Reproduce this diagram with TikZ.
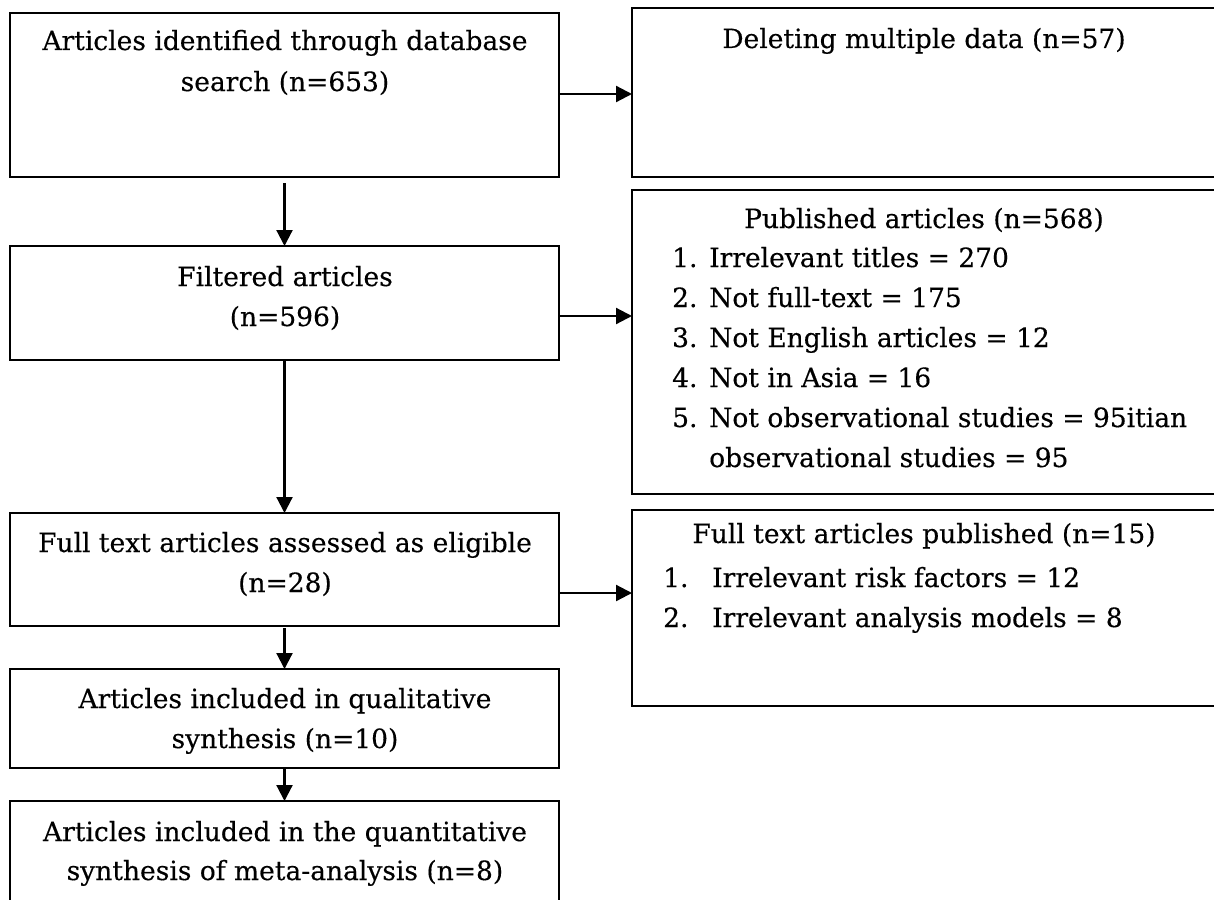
\documentclass[tikz,border=0pt]{standalone}
\usepackage{fontspec}
\setmainfont{DejaVu Serif}
\newfontfamily\gfont[FakeBold=0.35]{DejaVu Serif}
\usetikzlibrary{arrows.meta}
\begin{document}
\begin{tikzpicture}[x=1pt,y=-1pt,
  box/.style={draw=black, line width=2.2pt, inner sep=0pt, outer sep=0pt, anchor=north west},
  txt/.style={inner sep=0pt, anchor=base, font=\fontsize{26.5}{30}\gfont},
  ltxt/.style={txt, anchor=base west},
  arr/.style={line width=2.2pt, -{Triangle[length=16pt,width=16pt]}}]
\useasboundingbox (0,0) rectangle (1214,899);
\clip (0,0) rectangle (1214,899);
% left column
\node[box, minimum width=549pt, minimum height=164pt] (b1) at (10,13) {};
\node[box, minimum width=549pt, minimum height=114pt] (b2) at (10,246) {};
\node[box, minimum width=549pt, minimum height=113pt] (b3) at (10,513) {};
\node[box, minimum width=549pt, minimum height=99pt] (b4) at (10,669) {};
\node[box, minimum width=549pt, minimum height=110pt] (b5) at (10,801) {};
% right column
\node[box, minimum width=586pt, minimum height=169pt] (r1) at (632,8) {};
\node[box, minimum width=586pt, minimum height=304pt] (r2) at (632,190) {};
\node[box, minimum width=586pt, minimum height=196pt] (r3) at (632,510) {};
% left texts
\node[txt] (t1a) at (285,50) {Articles identified through database};
\node[txt] (t1b) at (285,91) {search (n=653)};
\node[txt] (t2a) at (285,286) {Filtered articles};
\node[txt] (t2b) at (285,326) {(n=596)};
\node[txt] (t3a) at (285,552) {Full text articles assessed as eligible};
\node[txt] (t3b) at (285,592) {(n=28)};
\node[txt] (t4a) at (285,708) {Articles included in qualitative};
\node[txt] (t4b) at (285,748) {synthesis (n=10)};
\node[txt] (t5a) at (285,841) {Articles included in the quantitative};
\node[txt] (t5b) at (285,880) {synthesis of meta-analysis (n=8)};
% right texts
\node[txt] (u1) at (924,48) {Deleting multiple data (n=57)};
\node[txt] (u2) at (924,228) {Published articles (n=568)};
\node[ltxt] (n21) at (672,267) {1.};
\node[ltxt] (i21) at (709,267) {Irrelevant titles = 270};
\node[ltxt] (n22) at (672,307) {2.};
\node[ltxt] (i22) at (709,307) {Not full-text = 175};
\node[ltxt] (n23) at (672,347) {3.};
\node[ltxt] (i23) at (709,347) {Not English articles = 12};
\node[ltxt] (n24) at (672,387) {4.};
\node[ltxt] (i24) at (709,387) {Not in Asia = 16};
\node[ltxt] (n25) at (672,427) {5.};
\node[ltxt] (i25) at (709,427) {Not observational studies = 95itian};
\node[ltxt] (i26) at (709,467) {observational studies = 95};
\node[txt] (u3) at (924,543) {Full text articles published (n=15)};
\node[ltxt] (n31) at (663,587) {1.};
\node[ltxt] (i31) at (712,587) {Irrelevant risk factors = 12};
\node[ltxt] (n32) at (663,627) {2.};
\node[ltxt] (i32) at (712,627) {Irrelevant analysis models = 8};
% connectors
\draw[arr] (b1.east |- 0,94) -- (r1.west |- 0,94);
\draw[arr] (b2.east |- 0,316) -- (r2.west |- 0,316);
\draw[arr] (b3.east |- 0,593) -- (r3.west |- 0,593);
\draw[arr, shorten <=6pt] (b1.south) -- (b2.north);
\draw[arr] (b2.south) -- (b3.north);
\draw[arr, shorten <=2pt] (b3.south) -- (b4.north);
\draw[arr] (b4.south) -- (b5.north);
\end{tikzpicture}
\end{document}
